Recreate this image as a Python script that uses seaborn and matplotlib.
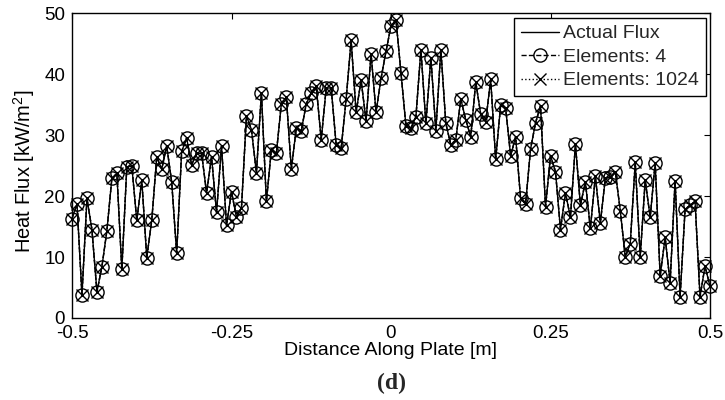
import numpy as np
import pandas as pd
import matplotlib
matplotlib.use("Agg")
import matplotlib.pyplot as plt
import seaborn as sns

# Heat flux values (kW/m^2), left to right
heat_flux = [
    16.3, 18.7, 3.8, 19.6, 14.5, 4.3, 8.4, 14.3, 22.9, 23.7,
    8.0, 24.8, 24.9, 16.0, 22.6, 9.9, 16.0, 26.4, 24.4, 28.2,
    22.3, 10.6, 27.3, 29.5, 25.1, 27.0, 27.0, 20.5, 26.4, 17.3,
    28.2, 15.2,
    20.7, 16.5, 18.1, 33.1, 30.9, 23.8, 36.9, 19.1, 27.6, 27.0,
    35.1, 36.2, 24.4, 31.1, 30.7, 35.1, 36.9, 38.0, 29.2, 37.7,
    37.7, 28.4, 27.8, 35.9, 45.5, 33.7, 39.0, 32.3, 43.3, 33.7,
    39.3, 43.7,
    47.9, 48.9, 40.2, 31.5, 31.1, 33.0, 44.0, 31.9, 42.7, 30.7,
    44.0, 31.9, 28.4, 29.2, 35.9, 32.5, 29.7, 38.7, 33.4, 32.2,
    39.1, 26.0, 34.9, 34.4, 26.6, 29.7, 19.6, 18.7, 27.7, 32.0,
    34.8, 18.2,
    26.6, 24.0, 14.5, 20.5, 16.5, 28.5, 18.5, 22.3, 14.7, 23.2,
    15.6, 22.9, 23.1, 24.0, 17.6, 10.0, 12.2, 25.5, 10.0, 22.6,
    16.5, 25.4, 6.9, 13.2, 5.8, 22.5, 3.5, 17.8, 18.5, 19.1,
    3.5, 8.5, 5.2,
]
x_start, x_end = -0.5, 0.5
distance = np.linspace(x_start, x_end, len(heat_flux))

series_labels = ["Actual Flux", "Elements: 4", "Elements: 1024"]
x_ticks = [-0.5, -0.25, 0, 0.25, 0.5]
x_tick_labels = ["-0.5", "-0.25", "0", "0.25", "0.5"]
y_ticks = [0, 10, 20, 30, 40, 50]

df = pd.DataFrame({"distance": distance, "flux": heat_flux})

sns.set_theme(style="white")
plt.rcParams["font.family"] = ["Liberation Sans", "DejaVu Sans"]
plt.rcParams["mathtext.default"] = "regular"

fig = plt.figure(figsize=(7.25, 4.0), dpi=100)
ax = fig.add_axes([72 / 725, 1 - 318 / 400, 638 / 725, 305 / 400])

styles = [
    dict(linestyle="-", marker=None),
    dict(linestyle="--", marker="o", markersize=9.5, markerfacecolor="none",
         markeredgecolor="black", markeredgewidth=1.0),
    dict(linestyle=":", marker="x", markersize=8.0, markeredgecolor="black",
         markeredgewidth=1.0),
]
for lab, st in zip(series_labels, styles):
    sns.lineplot(data=df, x="distance", y="flux", ax=ax, color="black",
                 linewidth=1.0, label=lab, clip_on=False, **st)

ax.set_xlim(-0.5, 0.5)
ax.set_ylim(0, 50)
ax.set_xticks(x_ticks)
ax.set_xticklabels(x_tick_labels)
ax.set_yticks(y_ticks)

for sp in ax.spines.values():
    sp.set_color("black")
    sp.set_linewidth(1.0)

ax.tick_params(axis="both", which="both", direction="in", length=4, width=0.8,
               colors="black", labelsize=13.5, top=True, right=True, pad=5)

ax.set_xlabel("Distance Along Plate [m]", fontsize=14, color="black")
ax.set_ylabel("Heat Flux [kW/m$^2$]", fontsize=14.5, color="black")
ax.xaxis.set_label_coords(0.5, -0.079)
ax.yaxis.set_label_coords(-0.055, 0.48)

leg = ax.legend(loc="upper right", bbox_to_anchor=(0.9937, 0.9836),
                borderaxespad=0, fontsize=14, frameon=True, fancybox=False,
                edgecolor="black", framealpha=1, handlelength=2.0,
                handletextpad=0.2, labelspacing=0.3, borderpad=0.35)
leg.get_frame().set_linewidth(1.0)
leg.set_zorder(5)

fig.text(391 / 725, 1 - 383 / 400, "(d)", ha="center", va="center",
         fontsize=17, fontweight="bold",
         family=["Liberation Serif", "DejaVu Serif"])

fig.savefig("out.png", dpi=100)
